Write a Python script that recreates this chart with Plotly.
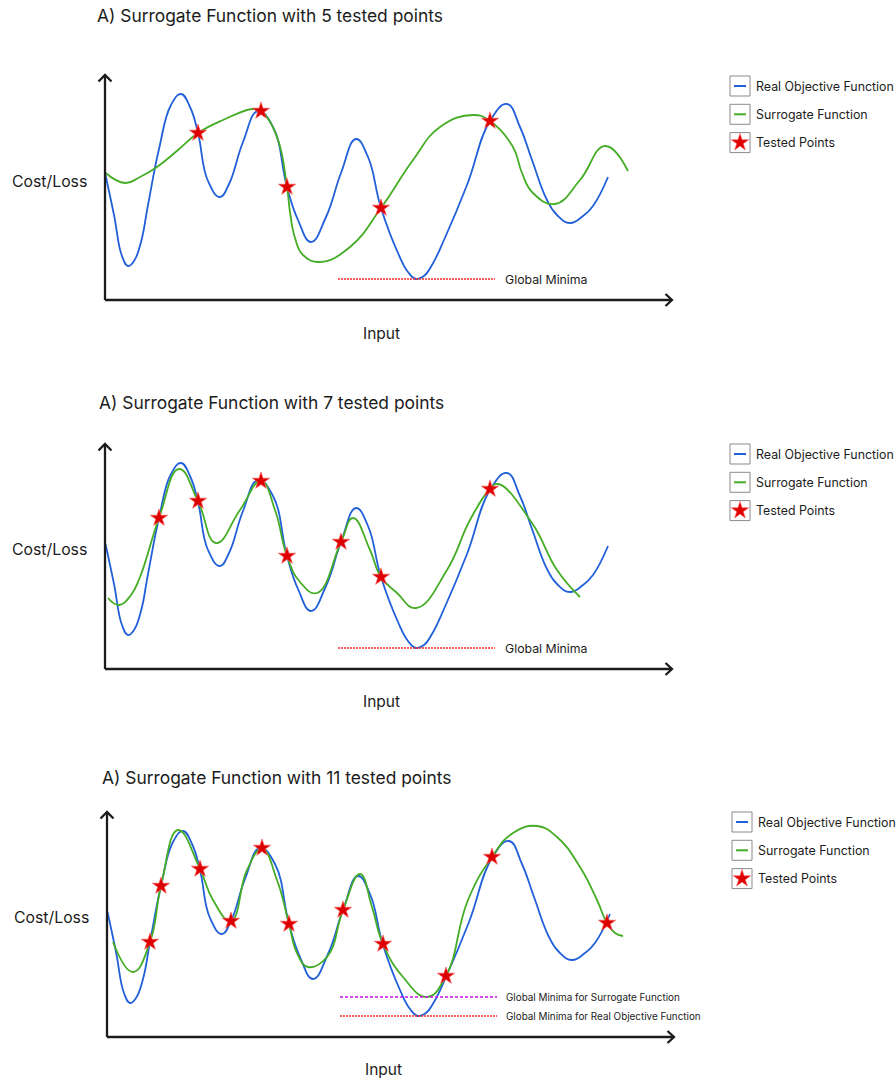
import plotly.graph_objects as go

# ---------------------------------------------------------------- data
# Real objective function (same curve in every panel), control points
real_x = [0.05, 0.9, 1.7, 2.3, 2.9, 3.6, 4.3, 5.4, 6.6, 7.6, 8.5, 9.3, 10.3, 11.5, 12.4, 13.8,
          15.3, 16.8, 18.2, 19.3, 20.6, 22.1, 23.6, 25.1, 26.3, 27.6, 29.3, 30.3, 31.1, 31.9,
          32.7, 33.9, 36.2, 38.5, 40.2, 41.5, 42.7, 44.2, 45.2, 46.5, 47.8, 48.8, 50.3]
real_y = [12.5, 8.5, 4.4, 3.4, 3.9, 5.8, 9.5, 15.1, 19.5, 20.6, 19.3, 16.7, 11.9, 10.3, 11.6, 15.8,
          18.9, 17.3, 11.3, 8.0, 5.8, 8.3, 12.7, 16.1, 14.3, 9.2, 4.7, 2.8, 2.1, 2.4,
          3.5, 6.0, 11.5, 17.9, 19.6, 17.3, 14.0, 10.0, 8.5, 7.7, 8.4, 9.4, 12.3]

# Surrogate fit after 5 tested points
surr5_x = [0.07, 2.0, 3.5, 5.2, 7.3, 9.3, 11.8, 14.8, 15.6, 17.2, 18.2, 18.5, 19.0, 19.8,
           21.5, 24.5, 27.6, 30.8, 33.5, 36.8, 38.5, 40.8, 41.7, 42.8, 45.0, 47.5, 50.0, 52.3]
surr5_y = [12.7, 11.7, 12.3, 13.3, 15.0, 16.7, 18.0, 19.1, 18.9, 16.3, 11.3, 8.8, 6.2, 4.5,
           3.8, 5.3, 9.2, 14.0, 17.3, 18.5, 17.9, 15.3, 12.7, 10.7, 9.6, 12.0, 15.4, 12.9]

# Surrogate fit after 7 tested points
surr7_x = [0.3, 1.4, 2.6, 3.5, 5.4, 7.4, 9.3, 11.1, 13.5, 15.6, 17.0, 18.2, 19.5, 21.2, 23.6,
           24.8, 26.5, 27.6, 29.2, 31.1, 34.2, 36.5, 38.5, 39.3, 42.7, 45.2, 47.5]
surr7_y = [7.1, 6.4, 7.4, 9.2, 15.1, 20.0, 16.8, 12.6, 15.9, 18.8, 15.9, 11.3, 8.7, 7.6, 12.7,
           15.1, 11.9, 9.2, 7.6, 6.1, 9.9, 14.9, 18.0, 18.5, 14.6, 9.9, 7.2]

# Surrogate fit after 11 tested points
surr11_x = [0.6, 2.6, 4.3, 5.4, 7.1, 9.3, 10.6, 12.4, 14.0, 15.5, 17.0, 18.2, 19.0, 20.1,
            22.0, 23.6, 25.3, 26.5, 27.6, 29.6, 32.0, 33.9, 36.1, 38.5, 40.6, 43.0, 45.0,
            47.3, 49.0, 50.0, 50.8, 51.6]
surr11_y = [9.5, 6.5, 9.5, 15.1, 20.7, 16.8, 13.7, 11.6, 16.7, 18.8, 15.7, 11.3, 8.4, 7.0,
            8.0, 12.7, 16.3, 13.0, 9.3, 6.0, 4.0, 6.1, 13.7, 18.0, 20.4, 21.1, 20.0,
            17.0, 13.7, 11.4, 10.4, 10.1]

# Tested points
tested5_x = [9.3, 15.6, 18.2, 27.6, 38.5]
tested5_y = [16.7, 18.9, 11.3, 9.2, 17.9]
tested7_x = [5.4, 9.3, 15.6, 18.2, 23.6, 27.6, 38.5]
tested7_y = [15.1, 16.8, 18.8, 11.3, 12.7, 9.2, 18.0]
tested11_x = [4.3, 5.4, 9.3, 12.4, 15.5, 18.2, 23.6, 27.6, 33.9, 38.5, 50.0]
tested11_y = [9.5, 15.1, 16.8, 11.6, 18.9, 11.3, 12.7, 9.3, 6.1, 18.0, 11.4]

titles = ["A) Surrogate Function with 5 tested points",
          "A) Surrogate Function with 7 tested points",
          "A) Surrogate Function with 11 tested points"]
legend_labels = ["Real Objective Function", "Surrogate Function", "Tested Points"]
minima_span = [23.3, 39.0]

# ---------------------------------------------------------------- styling
W, H = 896, 1082
BLUE = "#2160d8"
GREEN = "#45ad25"
RED = "#dd0000"
MINRED = "#ff2a2a"
MAGENTA = "#cc11ee"
INK = "#1c1c1c"
FONT = "Inter"
PX = 10.0  # pixels per data unit on every panel
SMOOTH = 1.3

panels = [
    dict(ox=105, oy=300, sx=surr5_x, sy=surr5_y, tx=tested5_x, ty=tested5_y,
         title=(95, 16), ylab=(10, 181), xlab=(381, 333), leg=(730, 86)),
    dict(ox=105, oy=669, sx=surr7_x, sy=surr7_y, tx=tested7_x, ty=tested7_y,
         title=(97, 402), ylab=(10, 549), xlab=(381, 701), leg=(730, 454)),
    dict(ox=107, oy=1037, sx=surr11_x, sy=surr11_y, tx=tested11_x, ty=tested11_y,
         title=(100, 777), ylab=(12, 917), xlab=(383, 1069), leg=(732, 822)),
]

X_RANGE = [-1.0, 57.5]
Y_RANGE = [-1.0, 23.5]

fig = go.Figure()
shapes = []
annotations = []


def paper(px, py):
    return px / W, 1 - py / H


for i, p in enumerate(panels):
    n = i + 1
    xa = "x" if n == 1 else f"x{n}"
    ya = "y" if n == 1 else f"y{n}"
    x0 = p["ox"] + X_RANGE[0] * PX
    x1 = p["ox"] + X_RANGE[1] * PX
    ytop = p["oy"] - Y_RANGE[1] * PX
    ybot = p["oy"] - Y_RANGE[0] * PX
    axis_common = dict(visible=False, fixedrange=True)
    fig.update_layout(**{
        ("xaxis" if n == 1 else f"xaxis{n}"): dict(domain=[x0 / W, x1 / W], range=X_RANGE,
                                                   anchor=ya, **axis_common),
        ("yaxis" if n == 1 else f"yaxis{n}"): dict(domain=[1 - ybot / H, 1 - ytop / H],
                                                   range=Y_RANGE, anchor=xa, **axis_common),
    })

    fig.add_trace(go.Scatter(x=real_x, y=real_y, mode="lines", xaxis=xa, yaxis=ya,
                             line=dict(color=BLUE, width=1.8, shape="spline", smoothing=SMOOTH),
                             showlegend=False, hoverinfo="skip"))
    fig.add_trace(go.Scatter(x=p["sx"], y=p["sy"], mode="lines", xaxis=xa, yaxis=ya,
                             line=dict(color=GREEN, width=1.8, shape="spline", smoothing=SMOOTH),
                             showlegend=False, hoverinfo="skip"))
    fig.add_trace(go.Scatter(x=p["tx"], y=p["ty"], mode="markers", xaxis=xa, yaxis=ya,
                             marker=dict(symbol="star", size=13, color=RED,
                                         line=dict(color="#ff5a5a", width=0.6)),
                             cliponaxis=False, showlegend=False, hoverinfo="skip"))

    # axes drawn as arrows
    ax_line = dict(color=INK, width=2.3)
    shapes += [
        dict(type="line", xref=xa, yref=ya, x0=0, y0=0, x1=0, y1=22.5, line=ax_line),
        dict(type="line", xref=xa, yref=ya, x0=0, y0=0, x1=56.7, y1=0, line=ax_line),
        dict(type="path", xref=xa, yref=ya, path="M -0.65 21.85 L 0 22.5 L 0.65 21.85",
             line=ax_line),
        dict(type="path", xref=xa, yref=ya, path="M 56.05 0.6 L 56.7 0 L 56.05 -0.6",
             line=ax_line),
    ]

    # global minima markers
    real_min = min(real_y)
    dotted = dict(color=MINRED, width=1.3, dash="2px,1px")
    if n < 3:
        shapes.append(dict(type="line", xref=xa, yref=ya, x0=minima_span[0], x1=minima_span[1],
                           y0=real_min, y1=real_min, line=dotted))
        annotations.append(dict(xref=xa, yref=ya, x=39.8, y=real_min, text="Global Minima",
                                showarrow=False, xanchor="left", yanchor="middle",
                                font=dict(family=FONT, size=12.3, color=INK)))
    else:
        surr_min = min(surr11_y)
        shapes.append(dict(type="line", xref=xa, yref=ya, x0=minima_span[0], x1=minima_span[1],
                           y0=surr_min, y1=surr_min,
                           line=dict(color=MAGENTA, width=1.4, dash="3px,2px")))
        shapes.append(dict(type="line", xref=xa, yref=ya, x0=minima_span[0], x1=minima_span[1],
                           y0=real_min, y1=real_min, line=dotted))
        for lvl, txt in [(surr_min, "Global Minima for Surrogate Function"),
                         (real_min, "Global Minima for Real Objective Function")]:
            annotations.append(dict(xref=xa, yref=ya, x=39.7, y=lvl, text=txt,
                                    showarrow=False, xanchor="left", yanchor="middle",
                                    font=dict(family=FONT, size=9.9, color=INK)))

    # titles and axis labels
    tx, ty = paper(*p["title"])
    annotations.append(dict(xref="paper", yref="paper", x=tx, y=ty, text=titles[i],
                            showarrow=False, xanchor="left", yanchor="middle",
                            font=dict(family=FONT, size=17.4, color=INK)))
    lx, ly = paper(*p["ylab"])
    annotations.append(dict(xref="paper", yref="paper", x=lx, y=ly, text="Cost/Loss",
                            showarrow=False, xanchor="left", yanchor="middle",
                            font=dict(family=FONT, size=15.8, color=INK)))
    ix, iy = paper(*p["xlab"])
    annotations.append(dict(xref="paper", yref="paper", x=ix, y=iy, text="Input",
                            showarrow=False, xanchor="center", yanchor="middle",
                            font=dict(family=FONT, size=15.5, color=INK)))

    # hand-built legend: boxed glyph + label
    bx, by = p["leg"]
    for k, label in enumerate(legend_labels):
        cy = by + k * 28.3
        bx0, by0 = paper(bx, cy - 10)
        bx1, by1 = paper(bx + 20, cy + 10)
        shapes.append(dict(type="rect", xref="paper", yref="paper", x0=bx0, x1=bx1,
                           y0=by1, y1=by0, line=dict(color="#8a8a8a", width=1),
                           fillcolor="white", layer="below"))
        if k < 2:
            gx0, gy = paper(bx + 4, cy)
            gx1, _ = paper(bx + 16, cy)
            shapes.append(dict(type="line", xref="paper", yref="paper", x0=gx0, x1=gx1,
                               y0=gy, y1=gy,
                               line=dict(color=BLUE if k == 0 else GREEN, width=2)))
        else:
            sx, sy = paper(bx + 10, cy)
            fig.add_trace(go.Scatter(x=[sx], y=[sy], mode="markers", xaxis="x4", yaxis="y4",
                                     marker=dict(symbol="star", size=13, color=RED,
                                                 line=dict(color="#ff5a5a", width=0.6)),
                                     showlegend=False, hoverinfo="skip"))
        lx2, ly2 = paper(bx + 24, cy)
        annotations.append(dict(xref="paper", yref="paper", x=lx2, y=ly2, text=label,
                                showarrow=False, xanchor="left", yanchor="middle",
                                font=dict(family=FONT, size=12.4, color=INK)))

fig.update_layout(
    xaxis4=dict(domain=[0, 1], range=[0, 1], visible=False, fixedrange=True, anchor="y4"),
    yaxis4=dict(domain=[0, 1], range=[0, 1], visible=False, fixedrange=True, anchor="x4"),
    width=W, height=H,
    margin=dict(l=0, r=0, t=0, b=0),
    paper_bgcolor="white", plot_bgcolor="rgba(0,0,0,0)",
    showlegend=False,
    shapes=shapes, annotations=annotations,
)

fig.write_html("out.html", config={"displayModeBar": False})
